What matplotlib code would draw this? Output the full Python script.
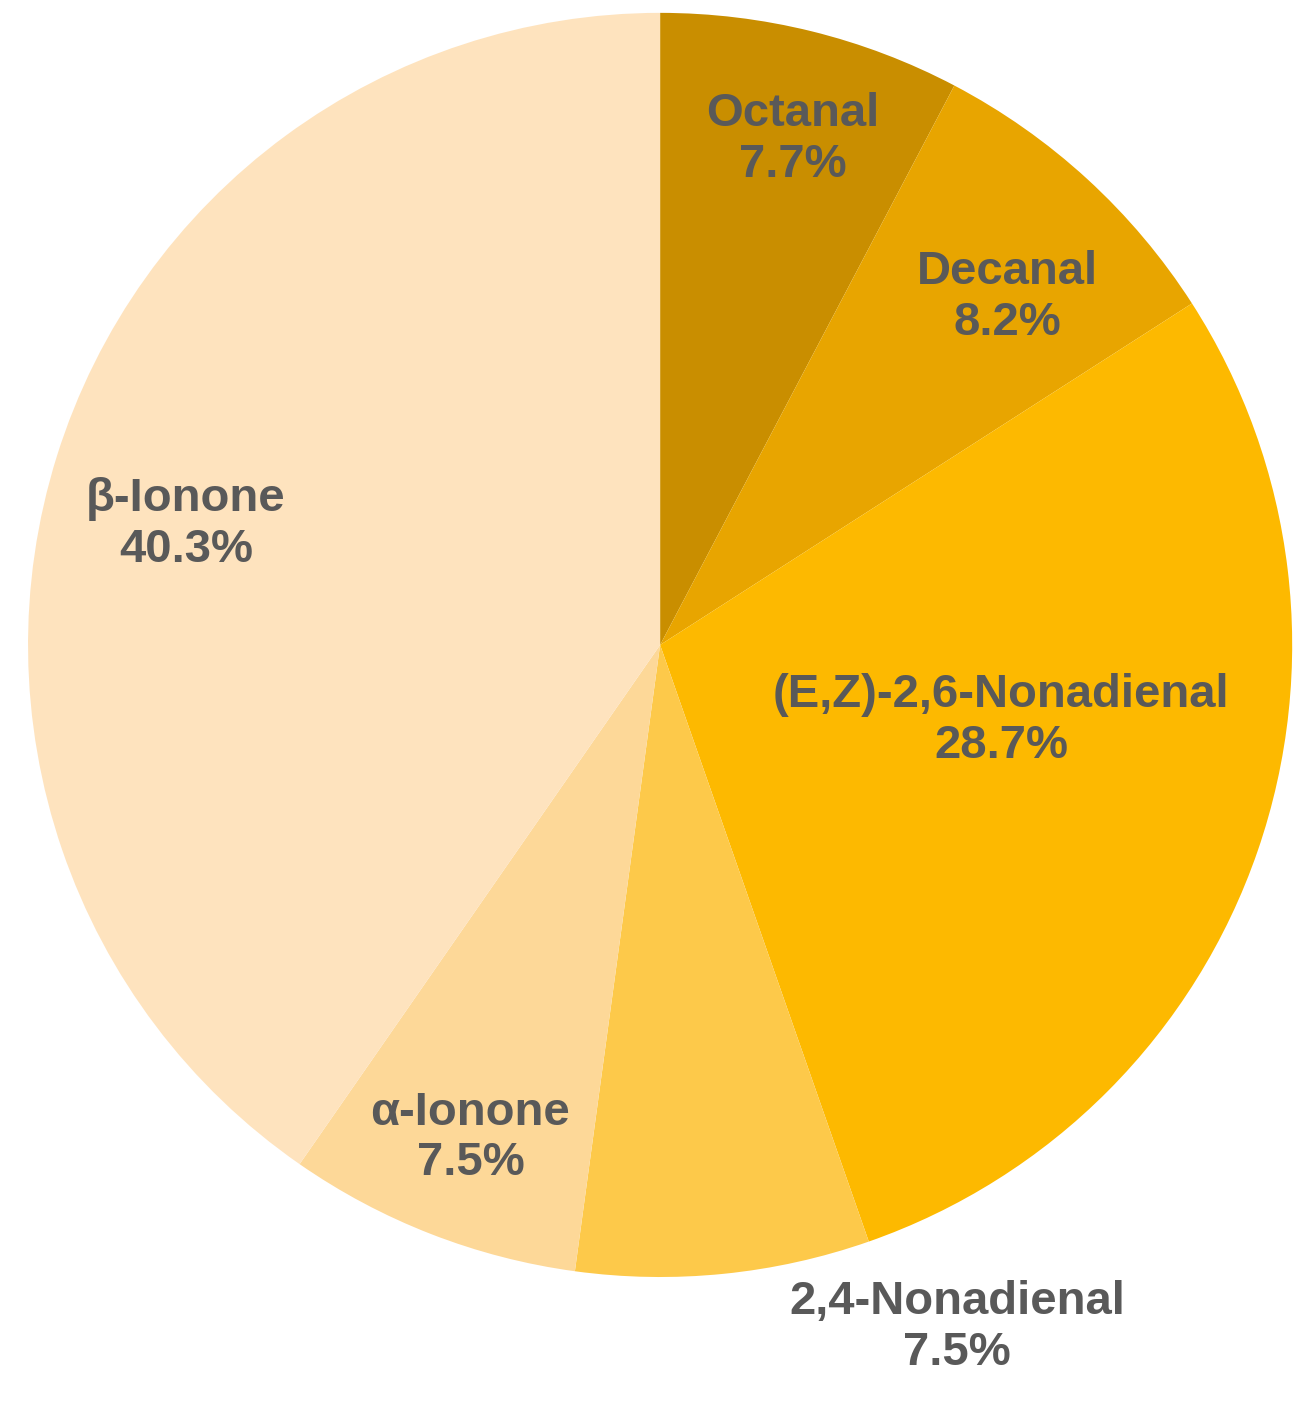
import matplotlib
matplotlib.use("Agg")
import matplotlib.pyplot as plt

labels = ["Octanal", "Decanal", "(E,Z)-2,6-Nonadienal", "2,4-Nonadienal", "α-Ionone", "β-Ionone"]
values = [7.7, 8.2, 28.7, 7.5, 7.5, 40.3]
colors = ["#C98E00", "#E8A500", "#FDB900", "#FDC94A", "#FDD898", "#FEE3BE"]
label_xy = [(0.21, 0.80), (0.55, 0.55), (0.54, -0.12), (0.47, -1.08), (-0.30, -0.78), (-0.75, 0.19)]

fig = plt.figure(figsize=(13.1, 14.19), dpi=100)
ax = fig.add_axes([0.0214, 0.1, 0.965, 0.891])
ax.pie(values, colors=colors, startangle=90, counterclock=False, radius=1,
       wedgeprops=dict(linewidth=0))
for lab, v, (x, y) in zip(labels, values, label_xy):
    ax.text(x, y, f"{lab}\n{v:.1f}%", ha="center", va="center", fontsize=34,
            fontweight="bold", color="#595959", family="Liberation Sans", linespacing=1.2)
ax.set_xlim(-1, 1)
ax.set_ylim(-1, 1)
ax.set_aspect("equal")
ax.axis("off")
fig.savefig("out.png", dpi=100)
